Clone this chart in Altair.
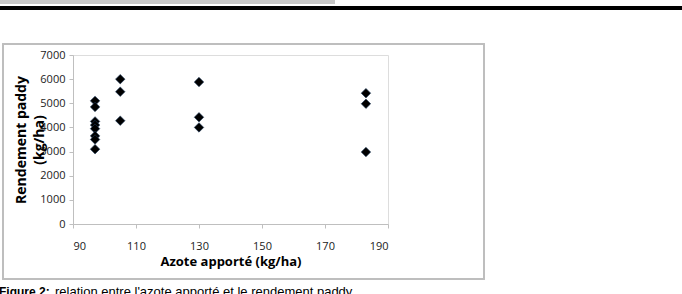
import altair as alt
import pandas as pd

azote = [97, 97, 97, 97, 97, 97, 97, 97,
         105, 105, 105,
         130, 130, 130,
         183, 183, 183]
rendement = [5100, 4850, 4250, 4100, 3950, 3650, 3500, 3100,
             6000, 5480, 4280,
             5880, 4420, 4000,
             5420, 4980, 2980]

x_ticks = [90, 110, 130, 150, 170, 190]
y_ticks = [0, 1000, 2000, 3000, 4000, 5000, 6000, 7000]

x_title = "Azote apporté (kg/ha)"
y_title = ["Rendement paddy", "(kg/ha)"]
caption_bold = "Figure 2:"
caption_rest = "relation entre l'azote apporté et le rendement paddy"

df = pd.DataFrame({"azote": azote, "rendement": rendement})

W, H = 315, 169
PL, PT = 73, 55

points = alt.Chart(df).mark_point(
    shape="diamond", filled=True, size=90, color="#000000", opacity=1,
    stroke="#1f3b5c", strokeWidth=0.6
).encode(
    x=alt.X("azote:Q", scale=alt.Scale(domain=[90, 190], nice=False, zero=False),
            axis=alt.Axis(values=x_ticks, title=x_title, grid=False, format="d",
                          domainColor="#bfbfbf", tickColor="#bfbfbf", tickSize=4,
                          labelFont="Open Sans", labelFontSize=11, labelColor="#222222",
                          labelPadding=12,
                          titleFont="Open Sans", titleFontSize=13, titleFontWeight="bold",
                          titleColor="#000000", titlePadding=4)),
    y=alt.Y("rendement:Q", scale=alt.Scale(domain=[0, 7000], nice=False),
            axis=alt.Axis(values=y_ticks, title=y_title, grid=False, format="d",
                          domainColor="#bfbfbf", tickColor="#bfbfbf", tickSize=4,
                          labelFont="Open Sans", labelFontSize=11, labelColor="#222222",
                          labelPadding=4,
                          titleFont="Open Sans", titleFontSize=14, titleFontWeight="bold",
                          titleColor="#000000", titlePadding=-7, titleLineHeight=18)),
)

frame = alt.Chart(df).mark_rect(fill=None, stroke="#bfbfbf", strokeWidth=1.5).encode(
    x=alt.value(3 - PL), x2=alt.value(484 - PL),
    y=alt.value(44 - PT), y2=alt.value(279 - PT),
)

topbar = alt.Chart(df).mark_rect(fill="#c8c8c8").encode(
    x=alt.value(0 - PL), x2=alt.value(335 - PL),
    y=alt.value(0 - PT), y2=alt.value(4 - PT),
)

topline = alt.Chart(df).mark_rect(fill="#000000").encode(
    x=alt.value(0 - PL), x2=alt.value(682 - PL),
    y=alt.value(6 - PT), y2=alt.value(9.5 - PT),
)

cap1 = alt.Chart(pd.DataFrame({"t": [caption_bold]})).mark_text(
    align="left", baseline="alphabetic", font="Liberation Sans", fontSize=12,
    fontWeight="bold", color="#000000"
).encode(x=alt.value(-1 - PL), y=alt.value(296 - PT), text="t:N")

cap2 = alt.Chart(pd.DataFrame({"t": [caption_rest]})).mark_text(
    align="left", baseline="alphabetic", font="Liberation Sans", fontSize=13,
    color="#000000"
).encode(x=alt.value(55 - PL), y=alt.value(296 - PT), text="t:N")

chart = alt.layer(frame, topbar, topline, points, cap1, cap2).properties(
    width=W, height=H,
    padding={"left": PL, "top": PT, "right": 682 - PL - W, "bottom": 294 - PT - H},
    autosize=alt.AutoSizeParams(type="none"),
).configure_view(stroke=None).configure(background="#ffffff")

chart.save("out.html", embed_options={"renderer": "svg", "actions": False})
